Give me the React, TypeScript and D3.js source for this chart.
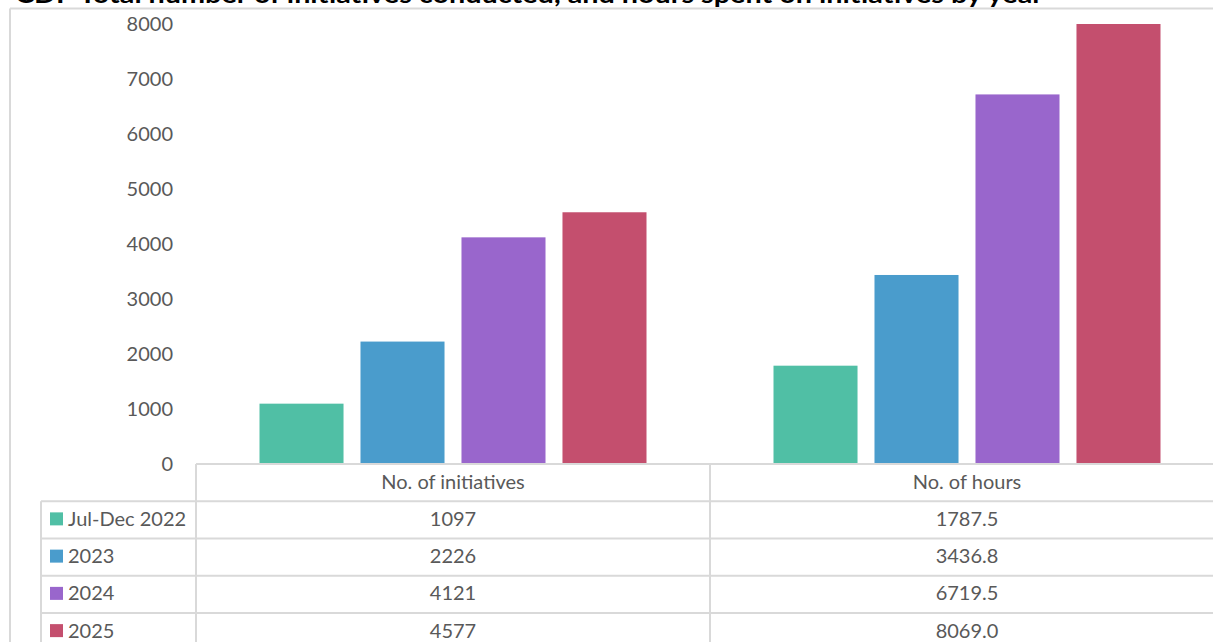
import React from "react";
import * as d3 from "d3";

const categories = ["No. of initiatives", "No. of hours"];
const seriesNames = ["Jul-Dec 2022", "2023", "2024", "2025"];
const initiatives = [1097, 2226, 4121, 4577];
const hours = [1787.5, 3436.8, 6719.5, 8069.0];
const yTicks = [0, 1000, 2000, 3000, 4000, 5000, 6000, 7000, 8000];
const colors = ["#50bfa5", "#4a9ccc", "#9966cc", "#c44f6e"];
const title = "CDP Total number of initiatives conducted, and hours spent on initiatives by year";

const W = 1213;
const H = 642;
const FONT = "Lato, 'Open Sans', sans-serif";
const GRID = "#d9d9d9";
const TXT = "#595959";

export default function App() {
  const plotLeft = 196;
  const colW = 514;
  const y = d3.scaleLinear().domain([0, 8000]).range([464, 24]).clamp(true);
  const x = d3.scaleBand<string>().domain(categories).range([plotLeft, plotLeft + colW * categories.length]);
  const inner = d3.scaleBand<string>().domain(seriesNames).range([63.5, colW - 63.5]).paddingInner(0.168);
  const seriesValues = seriesNames.map((_, i) => [initiatives[i], hours[i]]);
  const fmt = [(v: number) => d3.format("d")(v), (v: number) => d3.format(".1f")(v)];

  const tableTop = y(0);
  const headerH = 37.25;
  const rowH = 37.25;
  const rowTops = seriesNames.map((_, i) => tableTop + headerH + i * rowH);
  const legendLeft = 41;
  const dy = -2;

  return (
    <svg width={W} height={H} style={{ position: "absolute", left: 0, top: 0, display: "block", background: "#fff" }} fontFamily={FONT}>
      {/* title (clipped at the top) */}
      <text x={15} y={3} fontSize={25} fontWeight={700} fill="#000" textLength={1028} lengthAdjust="spacingAndGlyphs">
        {title}
      </text>
      {/* outer chart border */}
      <line x1={10} x2={W} y1={8.5} y2={8.5} stroke={GRID} strokeWidth={2} />
      <line x1={10} x2={10} y1={8.5} y2={H} stroke={GRID} strokeWidth={2} />

      {/* y axis labels */}
      {yTicks.map((t) => (
        <text key={t} x={173} y={y(t) - 1} textAnchor="end" dominantBaseline="central" fontSize={20} fill={TXT}>
          {t}
        </text>
      ))}

      {/* bars */}
      {seriesNames.map((s, si) =>
        categories.map((c, ci) => {
          const v = seriesValues[si][ci];
          const x0 = (x(c) as number) + (inner(s) as number);
          return (
            <rect key={s + c} x={x0} y={y(v)} width={inner.bandwidth()} height={y(0) - y(v)} fill={colors[si]} />
          );
        })
      )}

      {/* data table */}
      <g stroke={GRID} strokeWidth={2}>
        <line x1={plotLeft} x2={W} y1={tableTop} y2={tableTop} />
        {rowTops.map((rt, i) => (
          <line key={"h" + i} x1={legendLeft} x2={W} y1={rt} y2={rt} />
        ))}
        <line x1={legendLeft} x2={W} y1={rowTops[3] + rowH} y2={rowTops[3] + rowH} />
        <line x1={legendLeft} x2={legendLeft} y1={rowTops[0]} y2={H} />
        {categories.map((c) => (
          <line key={"v" + c} x1={x(c) as number} x2={x(c) as number} y1={tableTop} y2={H} />
        ))}
        <line x1={plotLeft + colW * 2} x2={plotLeft + colW * 2} y1={tableTop} y2={H} />
      </g>
      {categories.map((c) => (
        <text
          key={"hd" + c}
          x={(x(c) as number) + x.bandwidth() / 2}
          y={tableTop + headerH / 2 + dy}
          textAnchor="middle"
          dominantBaseline="central"
          fontSize={20}
          fill={TXT}
        >
          {c}
        </text>
      ))}
      {seriesNames.map((s, si) => (
        <g key={"row" + s}>
          <rect x={50} y={rowTops[si] + rowH / 2 - 7.5} width={13} height={13} fill={colors[si]} />
          <text x={68} y={rowTops[si] + rowH / 2 + dy} dominantBaseline="central" fontSize={20} fill={TXT}>
            {s}
          </text>
          {categories.map((c, ci) => (
            <text
              key={c}
              x={(x(c) as number) + x.bandwidth() / 2}
              y={rowTops[si] + rowH / 2 + dy}
              textAnchor="middle"
              dominantBaseline="central"
              fontSize={20}
              fill={TXT}
            >
              {fmt[ci](seriesValues[si][ci])}
            </text>
          ))}
        </g>
      ))}
    </svg>
  );
}
